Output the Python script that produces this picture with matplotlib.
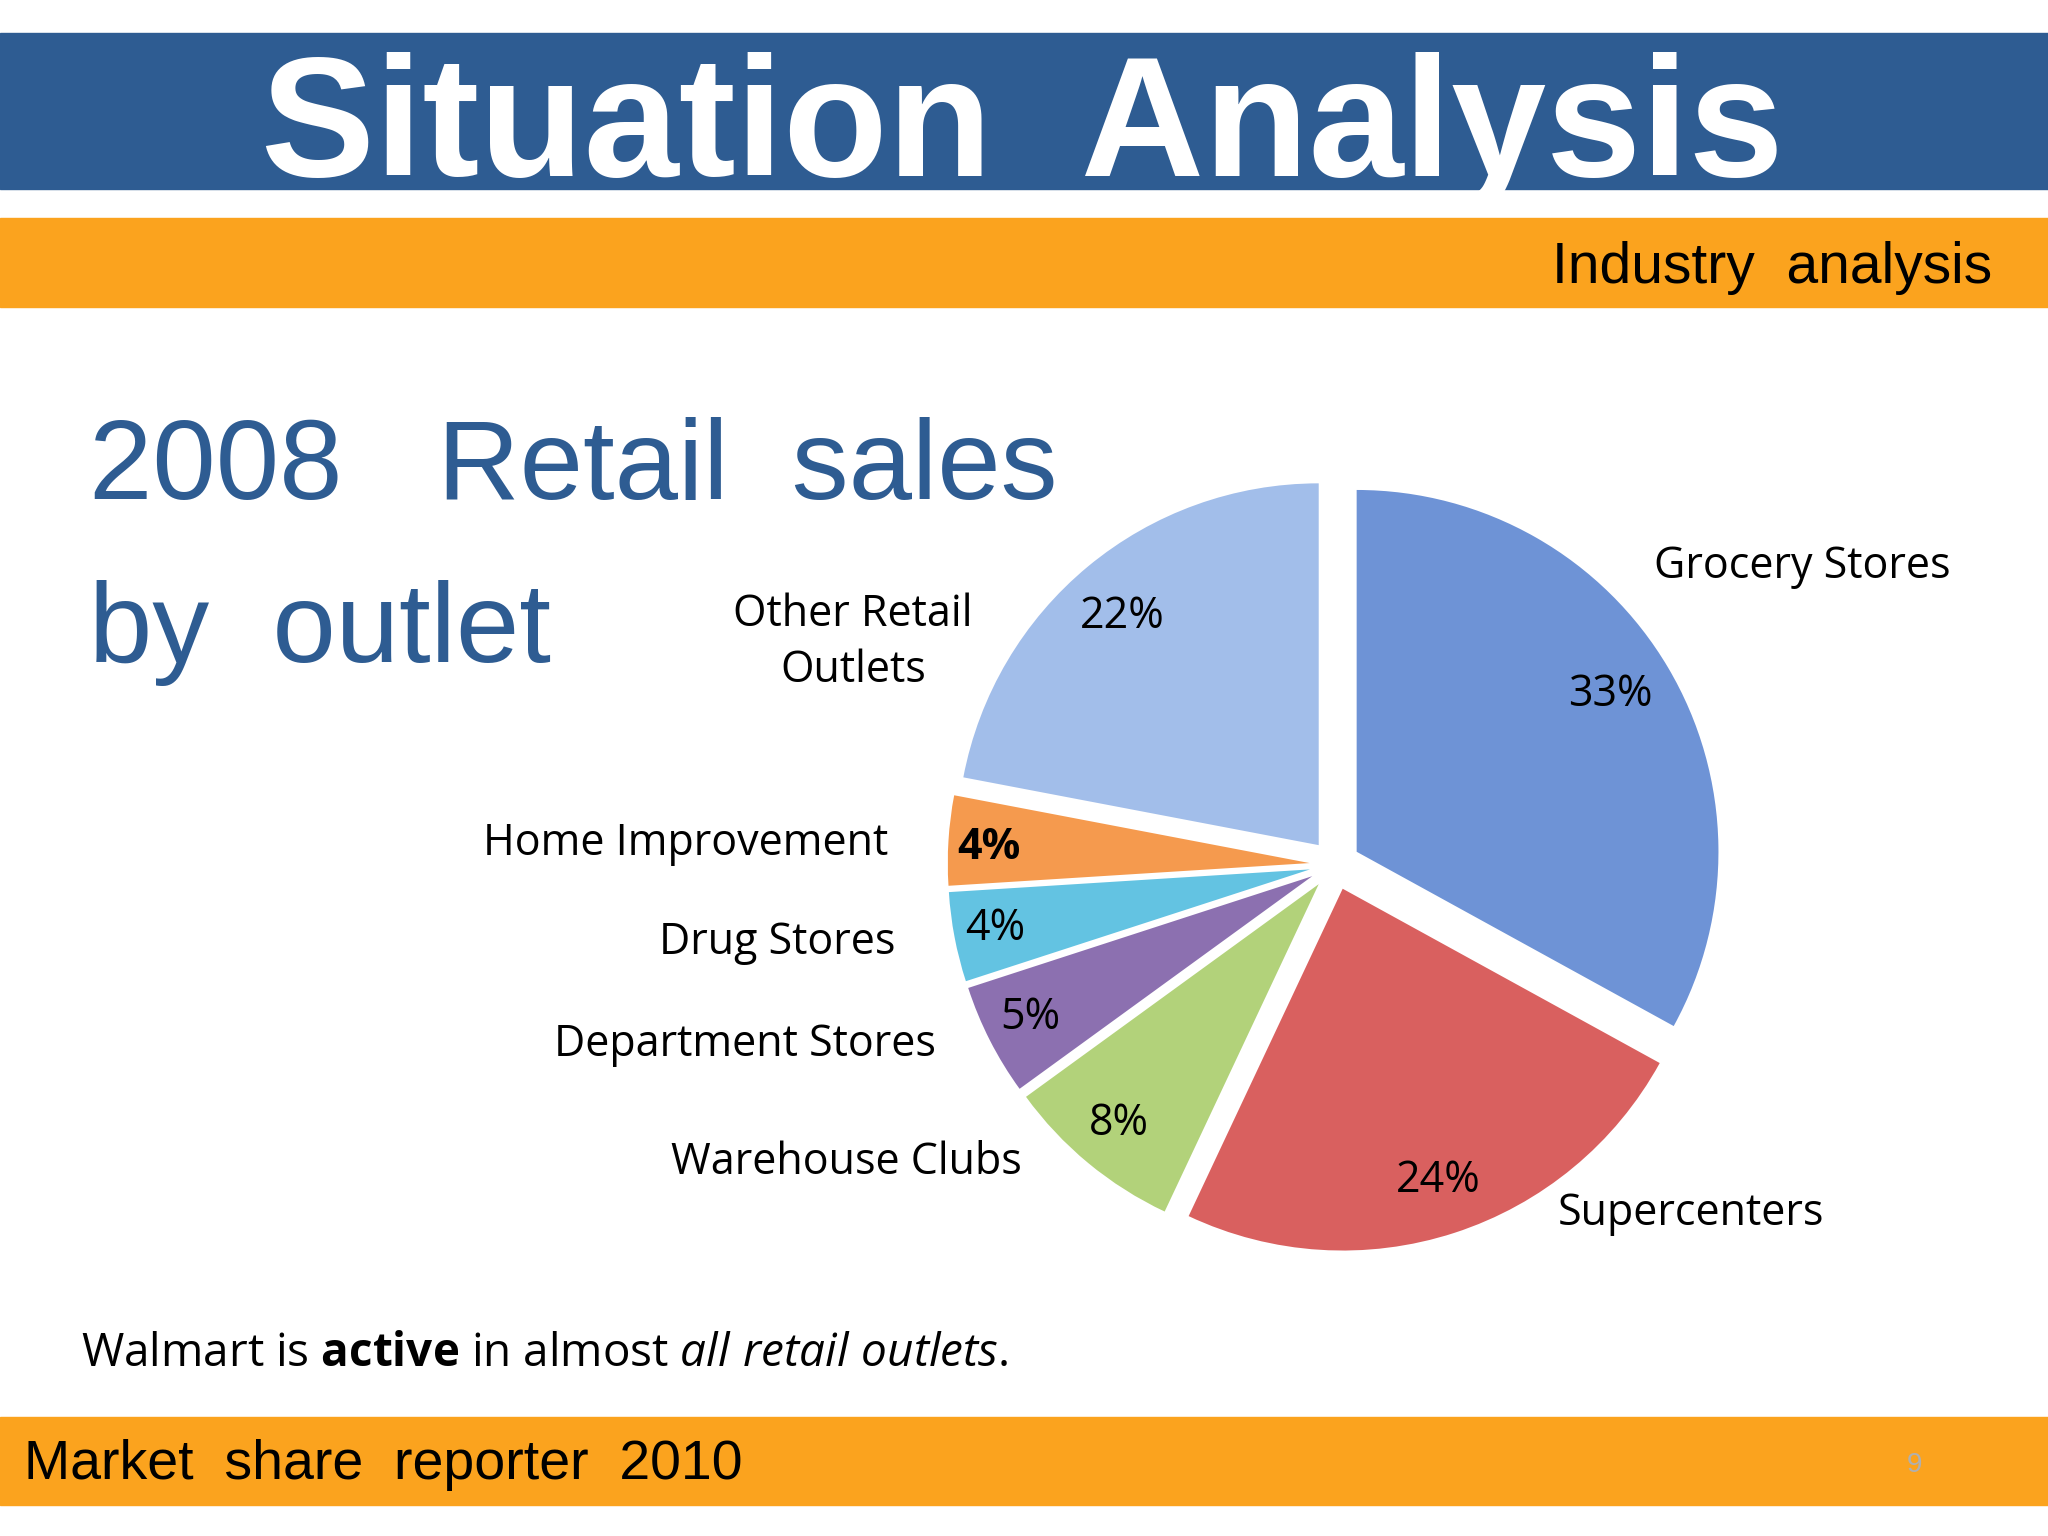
import matplotlib
matplotlib.use("Agg")
import matplotlib.pyplot as plt
import numpy as np
from matplotlib.patches import Rectangle

categories = ["Grocery Stores", "Supercenters", "Warehouse Clubs", "Department Stores",
              "Drug Stores", "Home Improvement", "Other Retail\nOutlets"]
shares = [33, 24, 8, 5, 4, 4, 22]
colors = ["#6E93D6", "#D9605F", "#B2D27A", "#8C70B0", "#63C3E2", "#F59A4E", "#A2BEEA"]

W, H = 1568.0, 1176.0
def fx(x): return x / W
def fy(y): return 1 - y / H

fig = plt.figure(figsize=(20.48, 15.36), dpi=100)
fig.patch.set_facecolor("white")
SANS = "Liberation Sans"
LAB = "Open Sans"
plt.rcParams["mathtext.fontset"] = "custom"
plt.rcParams["mathtext.rm"] = LAB
plt.rcParams["mathtext.it"] = LAB + ":italic"
plt.rcParams["mathtext.bf"] = LAB + ":bold"

fig.patches.append(Rectangle((0, fy(145)), 1, (145 - 25) / H, transform=fig.transFigure, color="#2E5C92", zorder=0))
fig.patches.append(Rectangle((0, fy(235)), 1, (235 - 167) / H, transform=fig.transFigure, color="#FBA31E", zorder=0))
fig.patches.append(Rectangle((0, fy(1152)), 1, (1152 - 1085) / H, transform=fig.transFigure, color="#FBA31E", zorder=0))

fig.text(fx(783), fy(101), "Situation  Analysis", color="white", fontsize=123, fontweight="bold",
         family=SANS, ha="center", va="center")
fig.text(fx(1525), fy(205), "Industry  analysis", color="black", fontsize=41, family=SANS, ha="right", va="center")
fig.text(fx(68), fy(360), "2008   Retail  sales", color="#2E5C92", fontsize=82, family=SANS, ha="left", va="center")
fig.text(fx(68), fy(485), "by  outlet", color="#2E5C92", fontsize=82, family=SANS, ha="left", va="center")
fig.text(fx(62), fy(1037), r"Walmart is $\bf{active}$ in almost $\it{all\ retail\ outlets.}$", color="black",
         fontsize=33, family=LAB, ha="left", va="center")
fig.text(fx(18), fy(1122), "Market  share  reporter  2010", color="black", fontsize=40, family=SANS, ha="left", va="center")
fig.text(fx(1466), fy(1122), "9", color="#B0B0B0", fontsize=20, family=SANS, ha="center", va="center")

R = 277.0
half = 360.0
ax = fig.add_axes([fx(1022 - half), fy(662 + half), 2 * half / W, 2 * half / H])
ax.axis("off")
explode = [0.07] * len(shares)
wedges, texts, autotexts = ax.pie(shares, colors=colors, startangle=90, counterclock=False,
                                  explode=explode, labels=categories,
                                  autopct="%d%%", pctdistance=0.85,
                                  textprops=dict(fontsize=31, family=LAB),
                                  wedgeprops=dict(linewidth=0))
ax.set_aspect("equal")
ax.set_xlim(-half / R, half / R)
ax.set_ylim(-half / R, half / R)
label_pos = [(1380, 434), (1295, 929), (648, 890), (570, 800), (595, 722), (525, 646), (653, 492)]
pct_pos = [(1233, 532), (1101, 904), (857, 860), (789, 779), (762, 711), (757, 649), (859, 472)]
for t, (x, y) in zip(texts, label_pos):
    t.set_transform(fig.transFigure)
    t.set_position((fx(x), fy(y)))
    t.set_ha("center"); t.set_va("center")
    t.set_multialignment("center")
    t.set_linespacing(1.35)
for t, (x, y) in zip(autotexts, pct_pos):
    t.set_transform(fig.transFigure)
    t.set_position((fx(x), fy(y)))
    t.set_fontsize(31)
autotexts[5].set_fontweight("bold")

fig.savefig("out.png", dpi=100)
